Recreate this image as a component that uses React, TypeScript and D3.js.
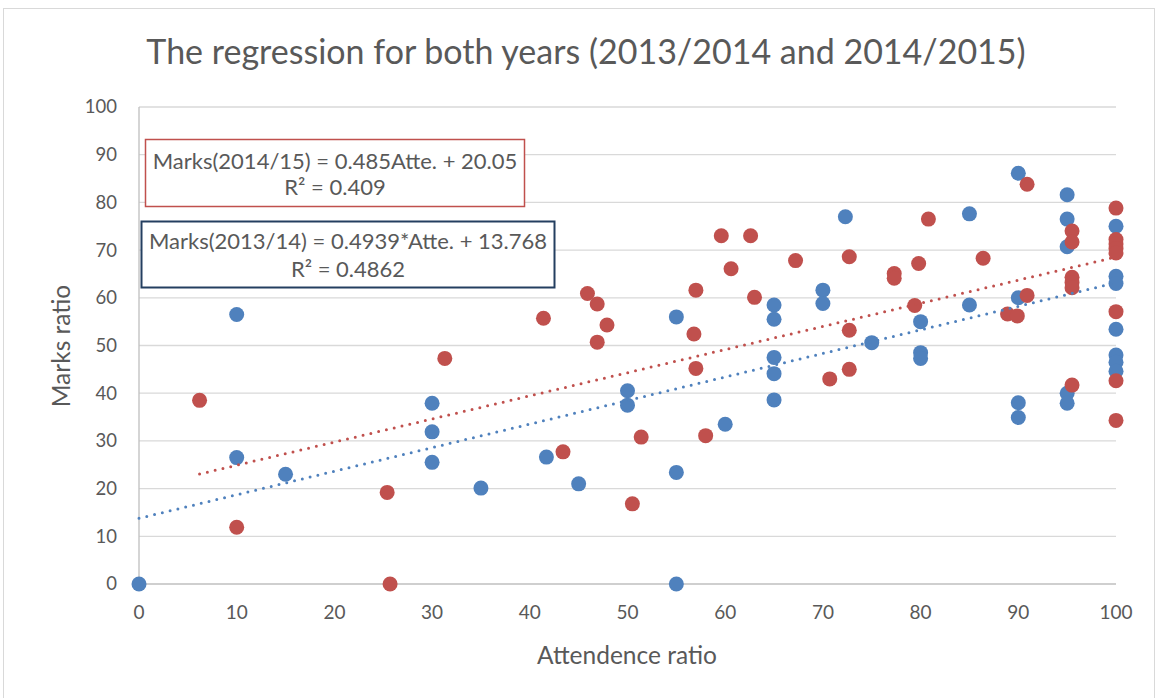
import React from "react";
import * as d3 from "d3";

// 2013/14 (blue)
const attendance1314 = [0, 10, 10, 15, 30, 30, 30, 35, 41.7, 45, 50, 50, 55, 55, 55, 60, 65, 65, 65, 65, 65, 70, 70, 72.3, 75, 80, 80, 80, 85, 85, 90, 90, 90, 90, 95, 95, 95, 95, 95, 100, 100, 100, 100, 100, 100, 100];
const marks1314 = [0, 56.5, 26.5, 23, 37.9, 31.9, 25.5, 20.1, 26.6, 21, 40.5, 37.5, 56, 23.4, 0, 33.5, 58.5, 55.5, 47.5, 44.1, 38.6, 61.6, 58.8, 77, 50.6, 55, 48.5, 47.3, 77.6, 58.5, 86.1, 60, 38, 34.9, 81.6, 76.5, 70.7, 40, 37.9, 75, 64.5, 63, 53.4, 48, 46.5, 44.6];

// 2014/15 (red)
const attendance1415 = [6.2, 10, 25.4, 25.7, 31.3, 41.4, 43.4, 45.9, 46.9, 47.9, 46.9, 50.5, 51.4, 56.8, 57, 57, 58, 59.6, 60.6, 62.6, 63, 67.2, 70.7, 72.7, 72.7, 72.7, 77.3, 77.3, 79.4, 79.8, 80.8, 86.4, 88.9, 89.9, 90.9, 90.9, 95.5, 95.5, 95.5, 95.5, 95.5, 95.5, 100, 100, 100, 100, 100, 100, 100, 100];
const marks1415 = [38.5, 11.9, 19.2, 0, 47.3, 55.7, 27.7, 60.9, 58.7, 54.3, 50.7, 16.8, 30.8, 52.4, 61.6, 45.2, 31.1, 73, 66.1, 73, 60.1, 67.8, 43, 68.6, 53.2, 45, 65.1, 64.1, 58.4, 67.2, 76.5, 68.3, 56.6, 56.2, 60.5, 83.8, 74, 71.7, 64.3, 63.2, 62.1, 41.7, 78.8, 72.2, 71.3, 70.3, 69.4, 57.1, 42.6, 34.3];

// trendline coefficients as shown on the chart
const slope1314 = 0.4939, intercept1314 = 13.768;
const slope1415 = 0.485, intercept1415 = 20.05;

const xTicks = [0, 10, 20, 30, 40, 50, 60, 70, 80, 90, 100];
const yTicks = [0, 10, 20, 30, 40, 50, 60, 70, 80, 90, 100];

const BLUE = "#4f81bd";
const RED = "#c0504d";
const TEXT = "#595959";
const FONT = "Lato, 'Liberation Sans', sans-serif";

export default function App() {
    const width = 1158, height = 698;
    const margin = {top: 107, right: 42, bottom: 114, left: 139};

    const x = d3.scaleLinear().domain([0, 100]).range([margin.left, width - margin.right]);
    const y = d3.scaleLinear().domain([0, 100]).range([height - margin.bottom, margin.top]);

    const blue = attendance1314.map((a, i) => [a, marks1314[i]]);
    const red = attendance1415.map((a, i) => [a, marks1415[i]]);

    const trend = d3.line<number>().x(d => x(d));
    const xb = d3.extent(attendance1314) as [number, number];
    const xr = d3.extent(attendance1415) as [number, number];
    const blueTrend = trend.y(d => y(slope1314 * d + intercept1314))(xb);
    const redTrend = trend.y(d => y(slope1415 * d + intercept1415))(xr);

    return (
        <svg width={width} height={height} style={{position: "absolute", left: 0, top: 0, fontFamily: FONT}}>
            <rect x={0} y={0} width={width} height={height} fill="white"/>
            <rect x={3.5} y={8.5} width={1151} height={700} fill="white" stroke="#d9d9d9"/>

            <text x={586} y={64} textAnchor="middle" fontSize={34} fill={TEXT}>
                The regression for both years (2013/2014 and 2014/2015)
            </text>

            {/* gridlines */}
            {yTicks.map(t => (
                <line key={t} x1={x(0)} x2={x(100)} y1={y(t)} y2={y(t)}
                      stroke={t === 0 ? "#bfbfbf" : "#d9d9d9"} strokeWidth={1.3}/>
            ))}
            <line x1={x(0)} x2={x(0)} y1={y(0)} y2={y(100)} stroke="#bfbfbf" strokeWidth={1.3}/>

            {yTicks.map(t => (
                <text key={t} x={x(0) - 22} y={y(t)} dy="0.35em" textAnchor="end" fontSize={18.5} fill={TEXT}>{t}</text>
            ))}
            {xTicks.map(t => (
                <text key={t} x={x(t)} y={y(0) + 35} textAnchor="middle" fontSize={19} fill={TEXT}>{t}</text>
            ))}

            <text x={627} y={664} textAnchor="middle" fontSize={24.5} fill={TEXT}>Attendence ratio</text>
            <text transform="translate(70,346) rotate(-90)" textAnchor="middle" fontSize={24.5} fill={TEXT}>Marks ratio</text>

            {/* markers */}
            {blue.map((d, i) => <circle key={"b" + i} cx={x(d[0])} cy={y(d[1])} r={7.5} fill={BLUE}/>)}
            {red.map((d, i) => <circle key={"r" + i} cx={x(d[0])} cy={y(d[1])} r={7.5} fill={RED}/>)}

            {/* trendlines */}
            <path d={blueTrend ?? ""} fill="none" stroke={BLUE} strokeWidth={3} strokeDasharray="0 8" strokeLinecap="round"/>
            <path d={redTrend ?? ""} fill="none" stroke={RED} strokeWidth={3} strokeDasharray="0 8" strokeLinecap="round"/>

            {/* equation labels */}
            <rect x={145.5} y={139.5} width={379} height={67} fill="white" stroke={RED} strokeWidth={1.5}/>
            <text x={335} y={169} textAnchor="middle" fontSize={22} fill={TEXT}>Marks(2014/15) = 0.485Atte. + 20.05</text>
            <text x={335} y={195} textAnchor="middle" fontSize={22} fill={TEXT}>R² = 0.409</text>

            <rect x={141.5} y={221.5} width={413} height={66} fill="white" stroke="#243f60" strokeWidth={2}/>
            <text x={348} y={249} textAnchor="middle" fontSize={22} fill={TEXT}>Marks(2013/14) = 0.4939*Atte. + 13.768</text>
            <text x={348} y={277} textAnchor="middle" fontSize={22} fill={TEXT}>R² = 0.4862</text>
        </svg>
    );
}
